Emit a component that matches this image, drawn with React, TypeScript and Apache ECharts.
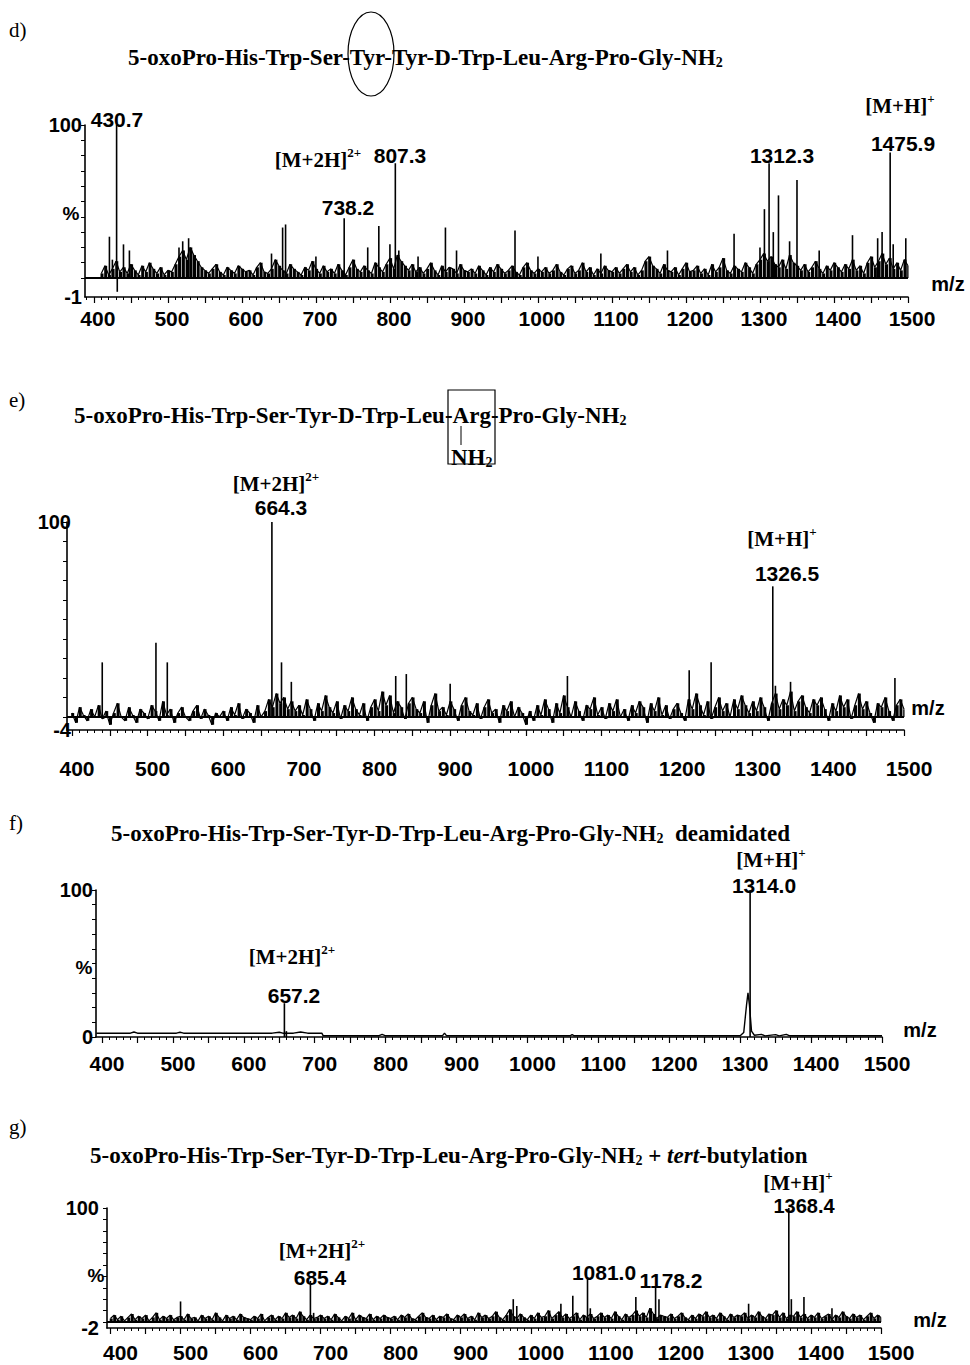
import React, { useEffect, useRef } from "react";
import * as echarts from "echarts";

// ---------- DATA ----------
const xTickLabels = [400, 500, 600, 700, 800, 900, 1000, 1100, 1200, 1300, 1400, 1500];
const yTickValues = [0, 10, 20, 30, 40, 50, 60, 70, 80, 90, 100];
const noiseStep = 5;

// panel d: Tyr-inserted analogue
const dNoiseStart = 410;
const dNoise = [
  3, 8, 2, 6, 11, 4, 7, 3, 9, 5, 2, 8, 4, 10, 6, 3, 7, 2, 5, 4,
  9, 14, 18, 12, 20, 15, 11, 7, 5, 3, 6, 9, 4, 2, 7, 5, 3, 8, 6, 4,
  5, 2, 7, 10, 4, 3, 6, 12, 8, 5, 3, 9, 6, 4, 2, 7, 5, 11, 6, 3,
  8, 4, 6, 3, 9, 5, 2, 7, 12, 6, 4, 8, 5, 3, 10, 7, 4, 9, 13, 6,
  15, 11, 8, 5, 9, 4, 7, 3, 6, 10, 5, 2, 8, 4, 7, 6, 3, 9, 5, 4,
  6, 3, 8, 5, 2, 7, 4, 9, 6, 3, 5, 8, 4, 2, 7, 10, 5, 3, 6, 4,
  7, 3, 5, 9, 4, 2, 6, 8, 3, 5, 10, 4, 7, 2, 6, 3, 8, 5, 4, 7,
  3, 6, 9, 4, 7, 2, 5, 11, 14, 8, 6, 3, 9, 5, 4, 7, 2, 6, 10, 4,
  5, 8, 3, 6, 2, 9, 4, 7, 13, 5, 3, 8, 6, 4, 10, 7, 3, 9, 12, 16,
  11, 14, 9, 7, 12, 6, 15, 10, 8, 5, 9, 4, 7, 11, 6, 3, 8, 5, 10, 7,
  4, 9, 6, 12, 5, 8, 3, 10, 14, 7, 11, 16, 9, 13, 6, 10, 5, 12, 8,
];
const dPeaks = [
  [421, 27], [425, 12], [430.7, 100], [431.6, -9], [440, 22], [448, 18], [515, 20], [520, 24],
  [528, 26], [532, 18], [640, 16], [655, 33], [659, 35], [700, 14], [738.2, 39], [770, 20],
  [785, 34], [800, 22], [807.3, 75], [812, 18], [838, 14], [875, 33], [890, 18], [969, 31],
  [1000, 14], [1085, 16], [1175, 18], [1265, 29], [1300, 20], [1306, 45], [1312.3, 75],
  [1318, 30], [1325, 54], [1340, 24], [1350, 64], [1380, 18], [1425, 28], [1459, 26],
  [1465, 30], [1475.9, 82], [1480, 22], [1497, 26],
];

// panel e: Arg(NH2) analogue
const eNoiseStart = 400;
const eNoise = [
  2, -3, 5, 1, -2, 4, 0, 6, -1, 3, -4, 2, 7, 0, -2, 5, 1, -3, 4, 2,
  -1, 6, 3, -2, 8, 1, 4, -3, 2, 5, 0, -2, 3, 6, -1, 4, 1, -4, 2, 0,
  3, -2, 5, 1, 7, -1, 4, 2, -3, 6, 0, 3, 9, 5, 12, 7, 10, 4, 8, 3,
  6, 1, 9, 4, -2, 7, 3, 11, 5, 2, 8, -1, 6, 3, 10, 4, 1, 7, -2, 5,
  9, 3, 13, 6, 11, 2, 8, 5, -1, 7, 10, 4, 2, 8, -3, 6, 12, 3, 5, 1,
  8, 4, -2, 6, 10, 3, 1, 7, -1, 5, 9, 2, 4, -3, 6, 3, 8, 0, 5, 2,
  -4, 3, -2, 6, 1, 9, 4, -3, 7, 2, 11, 5, 0, 8, 3, -2, 6, 4, 10, 1,
  5, -1, 7, 3, 9, 0, 4, -2, 6, 2, 8, 5, -3, 7, 3, 10, 1, 6, -1, 4,
  7, 2, -2, 9, 4, 12, 6, 1, 8, -1, 5, 10, 3, 7, 0, 9, 4, 11, 6, 2,
  8, 3, 10, 5, -2, 7, 12, 4, 9, 6, 13, 3, 8, 11, 5, 2, 9, 6, 10, 4,
  -2, 7, 3, 11, 5, 9, -1, 6, 12, 4, 8, 2, -3, 7, 5, 10, 3, -2, 6, 9, 4,
];
const ePeaks = [
  [440, 28], [511, 38], [526, 28], [664.3, 100], [677, 28], [690, 18], [828, 21], [842, 22],
  [900, 17], [1055, 21], [1216, 24], [1245, 28], [1326.5, 67], [1330, 16], [1350, 18], [1488, 20],
];

// panel f: deamidated
const fTrace = [
  [392, 2.6], [440, 2.6], [445, 3.4], [450, 2.6], [505, 2.6], [510, 3.2], [515, 2.6], [640, 2.6],
  [650, 3.2], [655, 2.6], [670, 2.6], [680, 3.4], [690, 2.6], [710, 2.6], [712, 0.8], [790, 0.8],
  [795, 1.8], [800, 0.8], [880, 0.8], [883, 2.6], [886, 0.8], [1060, 0.8], [1063, 1.6], [1066, 0.8],
  [1300, 0.8], [1305, 3], [1309, 22], [1311, 30], [1313, 22], [1316, 4], [1320, 1.2], [1330, 1.8],
  [1335, 0.8], [1350, 1.6], [1355, 0.8], [1365, 1.8], [1370, 0.8], [1500, 0.8],
];
const fPeaks = [[657.2, 23], [660, 4], [1314, 100]];

// panel g: tert-butylated
const gNoiseStart = 400;
const gNoise = [
  3, 6, 2, 5, 1, 4, 7, 2, 5, 3, 6, 1, 4, 8, 2, 5, 3, 6, 2, 4,
  5, 2, 7, 3, 4, 1, 6, 3, 5, 2, 8, 4, 1, 6, 3, 5, 2, 7, 4, 3,
  2, 5, 3, 7, 1, 4, 6, 2, 5, 3, 8, 4, 6, 3, 9, 5, 2, 6, 3, 4,
  6, 3, 5, 2, 7, 4, 1, 5, 3, 8, 2, 6, 4, 3, 7, 2, 5, 3, 6, 4,
  3, 5, 2, 6, 4, 7, 3, 2, 5, 8, 4, 3, 6, 2, 5, 4, 7, 3, 2, 6,
  4, 7, 3, 5, 2, 8, 4, 6, 3, 5, 9, 4, 2, 6, 11, 5, 3, 7, 4, 2,
  6, 3, 8, 4, 5, 10, 3, 6, 9, 4, 7, 3, 5, 8, 2, 6, 4, 7, 3, 5,
  8, 4, 6, 3, 9, 5, 2, 7, 4, 6, 10, 5, 8, 4, 12, 7, 3, 6, 5, 4,
  7, 3, 5, 8, 4, 2, 6, 3, 7, 5, 9, 4, 6, 3, 8, 5, 2, 7, 4, 6,
  5, 8, 3, 6, 4, 9, 5, 3, 7, 6, 10, 4, 8, 3, 6, 5, 9, 4, 7, 3,
  6, 4, 8, 3, 5, 7, 2, 6, 4, 9, 5, 3, 7, 4, 6, 2, 5, 8, 3, 6, 4,
];
const gPeaks = [
  [500, 18], [685.4, 36], [690, 8], [975, 20], [980, 14], [1043, 16], [1060, 23], [1081, 39],
  [1085, 12], [1150, 22], [1178.2, 30], [1183, 20], [1311, 16], [1368.4, 100], [1372, 20],
  [1390, 22], [1430, 12],
];

// ---------- STYLE ----------
const SANS = '"Liberation Sans", Arial, Helvetica, sans-serif';
const SERIF = '"Liberation Serif", "Times New Roman", Times, serif';
const INK = "#000";
const TS = 23; // title font size
const LS = 21; // ion label font size

const RICH: any = {
  b: { fontFamily: SERIF, fontWeight: "bold", fontSize: TS, lineHeight: 28, verticalAlign: "bottom", fill: INK },
  bi: { fontFamily: SERIF, fontWeight: "bold", fontStyle: "italic", fontSize: TS, lineHeight: 28, verticalAlign: "bottom", fill: INK },
  sub: { fontFamily: SERIF, fontWeight: "bold", fontSize: 14, lineHeight: 14, verticalAlign: "bottom", fill: INK },
  l: { fontFamily: SERIF, fontWeight: "bold", fontSize: LS, lineHeight: 24, verticalAlign: "bottom", fill: INK },
  sup: { fontFamily: SERIF, fontWeight: "bold", fontSize: 13, lineHeight: 13, verticalAlign: "top", fill: INK },
};

function rich(text: string, x: number, y: number, align = "center") {
  return {
    type: "text",
    x,
    y,
    silent: true,
    style: { text, fill: INK, fontFamily: SERIF, fontWeight: "bold", fontSize: TS, align, verticalAlign: "middle", rich: RICH },
  };
}
function num(text: string, x: number, y: number, size = 21) {
  return {
    type: "text",
    x,
    y,
    silent: true,
    style: { text, fill: INK, fontFamily: SANS, fontWeight: "bold", fontSize: size, align: "center", verticalAlign: "middle" },
  };
}
function tag(text: string, x: number, y: number) {
  return {
    type: "text",
    x,
    y,
    silent: true,
    style: { text, fill: INK, fontFamily: SERIF, fontSize: 21, align: "left", verticalAlign: "middle" },
  };
}

const H = 1365;
const W = 970;

const panels = [
  { grid: { left: 85, right: 62, top: 125, bottom: H - 297 }, xMin: 388, yMin: -12.4, yLabels: ["-1", "100"],
    noise: dNoise, noiseStart: dNoiseStart, trace: null as any, peaks: dPeaks, baseline: true, labelMargin: 11, labelShift: 4, yLabelMargin: 3 },
  { grid: { left: 67, right: 66, top: 522, bottom: H - 730 }, xMin: 393.4, yMin: -6.7, yLabels: ["-4", "100"],
    noise: eNoise, noiseStart: eNoiseStart, trace: null as any, peaks: ePeaks, baseline: true, labelMargin: 28, labelShift: 5, yLabelMargin: -4 },
  { grid: { left: 96, right: 88, top: 890, bottom: H - 1037 }, xMin: 391.5, yMin: 0, yLabels: ["0", "100"],
    noise: null as any, noiseStart: 0, trace: fTrace, peaks: fPeaks, baseline: false, labelMargin: 16, labelShift: 5, yLabelMargin: 3 },
  { grid: { left: 107, right: 89, top: 1208, bottom: H - 1328 }, xMin: 395, yMin: -5.3, yLabels: ["-2", "100"],
    noise: gNoise, noiseStart: gNoiseStart, trace: null as any, peaks: gPeaks, baseline: true, labelMargin: 14, labelShift: 10, yLabelMargin: 8 },
];

function ticksFrom(min: number, step: number) {
  const out: number[] = [];
  for (let v = Math.ceil(min / step) * step; v <= 1500; v += step) out.push(v);
  return out;
}

function buildOption() {
  const grid: any[] = [];
  const xAxis: any[] = [];
  const yAxis: any[] = [];
  const series: any[] = [];
  panels.forEach((p, i) => {
    grid.push({ ...p.grid, containLabel: false });
    const axisLineStyle = { color: INK, width: 1.6 };
    xAxis.push({
      type: "value", gridIndex: i, min: p.xMin, max: 1500, position: "bottom",
      axisLine: { show: true, onZero: false, lineStyle: axisLineStyle },
      axisTick: { show: true, customValues: ticksFrom(p.xMin, 10), length: 3, lineStyle: { color: INK, width: 1 } },
      axisLabel: {
        customValues: xTickLabels, color: INK, fontFamily: SANS, fontWeight: "bold", fontSize: 21,
        margin: p.labelMargin, padding: [0, 0, 0, p.labelShift * 2],
        formatter: (v: number) => String(Math.round(v)),
      },
      splitLine: { show: false },
    });
    xAxis.push({
      type: "value", gridIndex: i, min: p.xMin, max: 1500, position: "bottom",
      axisLine: { show: false, onZero: false },
      axisTick: { show: true, customValues: ticksFrom(p.xMin, 50), length: 6, lineStyle: { color: INK, width: 1.2 } },
      axisLabel: { show: false },
      splitLine: { show: false },
    });
    yAxis.push({
      type: "value", gridIndex: i, min: p.yMin, max: 100,
      axisLine: { show: true, onZero: false, lineStyle: axisLineStyle },
      axisTick: { show: true, customValues: yTickValues, length: 4, lineStyle: { color: INK, width: 1 } },
      axisLabel: {
        customValues: [p.yMin, 100], color: INK, fontFamily: SANS, fontWeight: "bold", fontSize: 20, margin: p.yLabelMargin,
        formatter: (v: number) => (v > 50 ? p.yLabels[1] : p.yLabels[0]),
      },
      splitLine: { show: false },
    });
    if (p.noise) {
      const pts = p.noise.map((v: number, k: number) => [p.noiseStart + k * noiseStep, v]);
      // noise as dense sticks
      series.push({
        type: "bar", xAxisIndex: i * 2, yAxisIndex: i, data: pts, barWidth: 3, silent: true,
        itemStyle: { color: INK },
      });
      series.push({
        type: "line", xAxisIndex: i * 2, yAxisIndex: i, data: pts, symbol: "none", silent: true,
        lineStyle: { color: INK, width: 1.2 },
        markLine: p.baseline
          ? { symbol: "none", silent: true, label: { show: false }, lineStyle: { color: INK, width: 1.8, type: "solid" }, data: [{ yAxis: 0 }] }
          : undefined,
      });
    } else {
      series.push({
        type: "line", xAxisIndex: i * 2, yAxisIndex: i, data: p.trace, symbol: "none", silent: true,
        lineStyle: { color: INK, width: 1.4 },
      });
    }
    series.push({
      type: "bar", xAxisIndex: i * 2, yAxisIndex: i, data: p.peaks, barWidth: 1.6, silent: true,
      barGap: "-100%", itemStyle: { color: INK },
    });
  });

  const graphic: any[] = [
    // panel d
    tag("d)", 9, 30),
    rich("{b|5-oxoPro-His-Trp-Ser-Tyr-Tyr-D-Trp-Leu-Arg-Pro-Gly-NH}{sub|2}", 128, 55, "left"),
    { type: "ellipse", silent: true, shape: { cx: 371, cy: 54, rx: 23, ry: 42 }, style: { fill: "none", stroke: INK, lineWidth: 1.2 } },
    rich("{l|[M+H]}{sup|+}", 900, 104),
    num("430.7", 117, 119),
    rich("{l|[M+2H]}{sup|2+}", 318, 158),
    num("807.3", 400, 155),
    num("738.2", 348, 207),
    num("1312.3", 782, 155),
    num("1475.9", 903, 143),
    num("%", 71, 213, 19),
    num("m/z", 948, 284, 20),
    // panel e
    tag("e)", 9, 400),
    rich("{b|5-oxoPro-His-Trp-Ser-Tyr-D-Trp-Leu-Arg-Pro-Gly-NH}{sub|2}", 74, 413, "left"),
    { type: "rect", silent: true, shape: { x: 448, y: 390, width: 47, height: 74 }, style: { fill: "none", stroke: INK, lineWidth: 1.2 } },
    { type: "line", silent: true, shape: { x1: 461, y1: 426, x2: 461, y2: 445 }, style: { stroke: INK, lineWidth: 1 } },
    rich("{b|NH}{sub|2}", 451, 455, "left"),
    rich("{l|[M+2H]}{sup|2+}", 276, 482),
    num("664.3", 281, 507),
    rich("{l|[M+H]}{sup|+}", 782, 537),
    num("1326.5", 787, 573),
    num("m/z", 928, 708, 20),
    // panel f
    tag("f)", 9, 823),
    rich("{b|5-oxoPro-His-Trp-Ser-Tyr-D-Trp-Leu-Arg-Pro-Gly-NH}{sub|2}{b|  deamidated}", 111, 831, "left"),
    rich("{l|[M+H]}{sup|+}", 771, 858),
    num("1314.0", 764, 885),
    rich("{l|[M+2H]}{sup|2+}", 292, 955),
    num("657.2", 294, 995),
    num("%", 84, 967, 19),
    num("m/z", 920, 1030, 20),
    // panel g
    tag("g)", 9, 1127),
    rich("{b|5-oxoPro-His-Trp-Ser-Tyr-D-Trp-Leu-Arg-Pro-Gly-NH}{sub|2}{b| + }{bi|tert}{b|-butylation}", 90, 1153, "left"),
    rich("{l|[M+H]}{sup|+}", 798, 1181),
    num("1368.4", 804, 1206, 20),
    rich("{l|[M+2H]}{sup|2+}", 322, 1249),
    num("685.4", 320, 1277),
    num("1081.0", 604, 1272),
    num("1178.2", 671, 1280),
    num("%", 96, 1275, 19),
    num("m/z", 930, 1320, 20),
  ];

  return { animation: false, backgroundColor: "#fff", grid, xAxis, yAxis, series, graphic };
}

export default function App() {
  const ref = useRef<HTMLDivElement>(null);
  useEffect(() => {
    if (!ref.current) return;
    const chart = echarts.init(ref.current, undefined, { renderer: "svg" });
    chart.setOption(buildOption() as any);
    return () => chart.dispose();
  }, []);
  return (
    <div
      ref={ref}
      style={{ position: "absolute", left: 0, top: 0, width: W, height: H, background: "#fff" }}
    />
  );
}
